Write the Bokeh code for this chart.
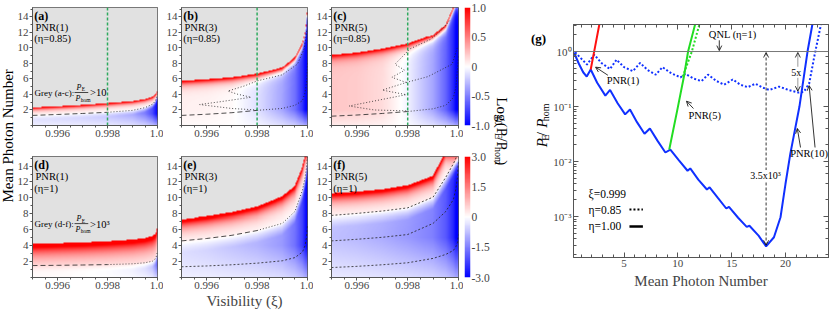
import numpy as np
from bokeh.plotting import figure
from bokeh.layouts import row, column
from bokeh.models import (Range1d, LinearColorMapper, Span, Label, Arrow, OpenHead,
                          FixedTicker, LinearAxis, LogAxis, CustomJSTickFormatter)
from bokeh.embed import file_html
from bokeh.resources import INLINE

SERIF = "Liberation Serif"
GREY = "#e1e1e1"
AXIS_C = "#555555"

# ---------------- panels (a)-(f): values ----------------
xi_knots = [0.995, 0.996, 0.997, 0.998, 0.999, 0.9995, 0.9998, 0.9999, 0.99996, 1.0]
# edge of the grey region
upper_a = [2.3, 2.45, 2.62, 2.85, 3.1, 3.35, 3.65, 3.95, 4.25, 4.6]
upper_b = [5.75, 5.95, 6.2, 6.65, 7.45, 8.8, 10.6, 12.0, 13.5, 15.5]
upper_c = [9.1, 9.4, 9.9, 10.55, 11.7, 13.0, 15.3, 16.0, 16.0, 16.0]
upper_d = [4.2, 4.3, 4.4, 4.55, 4.75, 4.95, 5.2, 5.45, 5.8, 6.6]
upper_e = [7.3, 7.7, 8.2, 8.9, 10.2, 11.5, 14.0, 15.5, 16.0, 16.0]
upper_f = [10.6, 10.8, 11.1, 11.6, 12.8, 16.0, 16.0, 16.0, 16.0, 16.0]
# contour lines
zero_a = [1.3, 1.42, 1.55, 1.7, 1.95, 2.3, 2.75, 3.1, 3.5, 4.0]
zero_d = [1.5, 1.53, 1.57, 1.62, 1.72, 1.85, 2.05, 2.3, 2.7, 3.3]
zero_e = [4.6, 4.9, 5.3, 5.9, 6.8, 8.3, 11.0, 12.5, 13.8, 15.5]
low_e = [1.35, 1.45, 1.6, 1.8, 2.1, 2.5, 3.2, 4.0, 5.0, 6.5]
zero_f = [7.8, 8.05, 8.35, 8.75, 10.1, 12.6, 14.3, 15.0, 15.5, 16.0]
mid_f = [4.6, 4.8, 5.05, 5.4, 6.8, 8.3, 9.8, 11.2, 12.6, 14.5]
low_f = [1.25, 1.4, 1.6, 1.85, 2.4, 2.9, 3.4, 3.9, 4.4, 5.4]
low_b = [1.3, 1.45, 1.65, 1.95, 2.2, 2.6, 3.2, 4.2, 5.5, 8.0]
low_c = [1.2, 1.35, 1.55, 1.8, 2.15, 2.6, 3.6, 5.0, 7.3, 9.0]
s_b_xi = [0.998, 0.997, 0.99572, 0.9966, 0.99776, 0.9972, 0.99684, 0.9975, 0.998, 0.999, 0.9996, 0.99987, 0.99997]
s_b_v = [2.0, 2.19, 2.7, 3.09, 3.64, 4.05, 4.44, 5.1, 5.74, 6.53, 7.9, 9.9, 12.2]
z_c_xi = [0.99965, 0.9993, 0.9989, 0.99809, 0.9975, 0.99788, 0.99738, 0.99794, 0.997, 0.99794, 0.99569, 0.99669, 0.998]
z_c_v = [13.5, 12.2, 11.1, 9.87, 7.9, 7.12, 6.21, 5.54, 4.56, 3.97, 2.51, 2.0, 1.88]
br_c_xi = [0.99794, 0.9988, 0.99975, 0.99995]
br_c_v = [5.54, 6.3, 7.9, 10.0]
# depth of the blue (fraction of colour-bar minimum) far below the red band
blue_a = [-0.18, -0.2, -0.22, -0.26, -0.35, -0.5, -0.7, -0.85, -0.95, -1.0]
blue_b = [0.06, 0.05, 0.02, -0.12, -0.35, -0.55, -0.8, -0.95, -1.0, -1.0]
blue_c = [0.22, 0.2, 0.14, -0.05, -0.35, -0.6, -0.85, -1.0, -1.0, -1.0]
blue_d = [-0.1, -0.1, -0.12, -0.14, -0.18, -0.25, -0.35, -0.5, -0.6, -0.7]
blue_e = [-0.17, -0.2, -0.25, -0.3, -0.4, -0.55, -0.75, -0.9, -1.0, -1.0]
blue_f = [-0.25, -0.28, -0.33, -0.4, -0.5, -0.65, -0.85, -1.0, -1.0, -1.0]

vis_ticks = [0.996, 0.998, 1.0]
vis_minor = [0.995, 0.9955, 0.996, 0.9965, 0.997, 0.9975, 0.998, 0.9985, 0.999, 0.9995, 1.0]
mpn_ticks = [2, 4, 6, 8, 10, 12, 14]
mpn_minor = list(range(0, 16))
cbar_top_ticks = [-1.0, -0.5, 0.0, 0.5, 1.0]
cbar_bot_ticks = [-3.0, -1.5, 0.0, 1.5, 3.0]

# ---------------- panel (g): values ----------------
solid_x = [0.35, 0.8, 1.2, 1.53, 1.9, 2.5, 3.26, 3.7, 4.4, 5.1, 5.55, 6.2, 6.9, 7.4, 8.1, 8.84, 9.3,
           10.1, 10.9, 11.15, 11.9, 12.7, 12.95, 13.7, 14.5, 14.75, 15.6, 16.4, 16.65, 17.5, 18.2,
           18.93, 19.54, 20.0, 20.45, 21.3, 22.05, 22.5]
solid_y = [0.95, 0.6, 0.42, 0.35, 0.47, 0.27, 0.158, 0.2, 0.115, 0.072, 0.088, 0.052, 0.032, 0.04,
           0.024, 0.0146, 0.0165, 0.0105, 0.0068, 0.0075, 0.0047, 0.0031, 0.0034, 0.0022, 0.0014,
           0.0015, 0.00095, 0.00065, 0.00068, 0.00045, 0.000286, 0.00042, 0.00097, 0.0039, 0.0138,
           0.1, 1.0, 3.1]
dotted_x = [0.45, 1.0, 1.56, 2.23, 2.9, 3.69, 4.3, 5.0, 5.82, 6.49, 7.2, 7.95, 8.57, 9.4, 10.24, 10.7,
            11.5, 12.2, 12.8, 13.6, 14.3, 15.1, 15.8, 16.5, 17.2, 17.9, 18.5, 19.4, 20.3, 21.2, 21.7,
            22.2, 22.7, 23.3]
dotted_y = [0.97, 0.75, 0.58, 0.88, 0.62, 0.48, 0.71, 0.52, 0.44, 0.62, 0.46, 0.38, 0.52, 0.4, 0.34,
            0.39, 0.32, 0.29, 0.38, 0.29, 0.25, 0.31, 0.25, 0.225, 0.26, 0.22, 0.2, 0.23, 0.2, 0.18,
            0.185, 0.26, 0.85, 3.1]
green_x = [9.2, 9.94, 10.55, 10.95, 11.6]
green_y = [0.0165, 0.085, 0.34, 1.0, 3.1]
green_dot_x = [10.45, 11.3, 12.0]
green_dot_y = [0.35, 1.0, 3.1]
red_x = [1.9, 2.3, 2.7]
red_y = [0.47, 1.2, 3.1]
g_xticks = [5, 10, 15, 20]
g_xminor = list(range(1, 25))
legend_sample_x = [5.5, 6.75]
legend_y = [0.0026, 0.00134, 0.00066]

# ---------------- colour maps ----------------
pal = []
for i in range(255):
    t = i / 254 * 2 - 1
    if t < 0:
        c = int(round(255 * (1 + t)))
        pal.append("#%02x%02xff" % (c, c))
    else:
        c = int(round(255 * (1 - t)))
        pal.append("#ff%02x%02x" % (c, c))
map_top = LinearColorMapper(palette=pal, low=-1, high=1, nan_color=GREY)
map_bot = LinearColorMapper(palette=pal, low=-3, high=3, nan_color=GREY)

V_TOP = 15.2
XI0, XI1 = 0.995, 1.0
NX, NY = 256, 240
xi_grid = np.linspace(XI0, XI1, NX)
v_grid = np.linspace(0, V_TOP, NY)


def build_field(upper, zero, blue, wr, sat, fade_h, wb, below_zero, scale):
    U = np.interp(xi_grid, xi_knots, upper)[None, :]
    Z = np.interp(xi_grid, xi_knots, zero)[None, :]
    B = np.interp(xi_grid, xi_knots, blue)[None, :]
    V = v_grid[:, None]
    red = np.clip(sat * np.exp(-(U - V) / wr), 0, 1)
    g = np.clip(0.35 + 0.65 * V / fade_h, 0, 1)
    h = np.clip((Z - V) / wb, 0, 1) ** 0.7 if below_zero else 1.0
    frac = red + (1 - red) * B * g * h
    frac = np.where(V > U, np.nan, frac)
    return (frac * scale).astype(np.float32)


def style_axes(p, size="11px"):
    for ax in p.axis:
        ax.axis_line_color = AXIS_C
        ax.major_tick_line_color = AXIS_C
        ax.minor_tick_line_color = AXIS_C
        ax.major_tick_out = 3
        ax.major_tick_in = 0
        ax.minor_tick_out = 2
        ax.minor_tick_in = 0
        ax.major_label_text_font = SERIF
        ax.major_label_text_font_size = size
        ax.major_label_standoff = 1
        ax.axis_label_text_font = SERIF
        ax.axis_label_text_font_style = "normal"
        ax.axis_label_text_font_size = "15px"
        ax.axis_label_standoff = 1


def lab(p, x, y, text, size, style="normal", align="left", baseline="middle", angle=0.0, bg=None):
    kw = dict(x=x, y=y, text=text, text_font=SERIF, text_font_size="%spx" % size,
              text_font_style=style, text_align=align, text_baseline=baseline, angle=angle,
              text_color="black")
    if bg:
        kw.update(background_fill_color=bg, background_fill_alpha=1.0)
    p.add_layout(Label(**kw))


TOP_H, BOT_H = 150, 164


def panel(arr, mapper, top_row, letter, pnr, eta, contours, xlabel, green, fw, rb):
    h = TOP_H if top_row else BOT_H
    p = figure(width=14 + fw + rb, height=h, x_range=Range1d(XI0, XI1), y_range=Range1d(0, V_TOP),
               output_backend="svg", toolbar_location=None,
               min_border_left=14, min_border_right=rb,
               min_border_top=5 if top_row else 3, min_border_bottom=17 if top_row else 36)
    p.background_fill_color = GREY
    p.border_fill_color = "white"
    p.grid.visible = False
    p.outline_line_color = AXIS_C
    p.image(image=[arr], x=XI0, y=0, dw=XI1 - XI0, dh=V_TOP, color_mapper=mapper)
    for xs, vs, dash in contours:
        p.line(xs, vs, line_color="#222222", line_width=0.8, line_dash=dash)
    if green:
        p.add_layout(Span(location=0.998, dimension="height", line_color="#2eaa5e",
                          line_dash="3 2", line_width=1.5))
    p.xaxis.ticker = FixedTicker(ticks=vis_ticks, minor_ticks=vis_minor)
    p.xaxis.formatter = CustomJSTickFormatter(code="return tick > 0.9999 ? '1.0' : tick.toFixed(3);")
    p.yaxis.ticker = FixedTicker(ticks=mpn_ticks, minor_ticks=mpn_minor)
    if not top_row:
        p.xaxis.axis_label = xlabel
    style_axes(p)
    lab(p, 0.99507, 14.1, letter, 12, "bold")
    lab(p, 0.99512, 12.65, pnr, 10.5)
    lab(p, 0.99507, 11.2, eta, 10.5)
    return p


def split(xs, vs, k=4):
    return [(xs[:k], vs[:k], "5 3"), (xs[k - 1:], vs[k - 1:], "1 2")]


arr_a = build_field(upper_a, zero_a, blue_a, 0.3, 1.3, 1.5, 0.6, True, 1.0)
arr_b = build_field(upper_b, low_b, blue_b, 0.45, 1.3, 2.0, 1.0, False, 1.0)
arr_c = build_field(upper_c, low_c, blue_c, 0.5, 1.3, 2.0, 1.0, False, 1.0)
arr_d = build_field(upper_d, zero_d, blue_d, 1.3, 1.4, 1.5, 0.8, True, 3.0)
arr_e = build_field(upper_e, zero_e, blue_e, 0.9, 1.4, 4.0, 1.5, True, 3.0)
arr_f = build_field(upper_f, zero_f, blue_f, 0.9, 1.4, 5.0, 1.5, True, 3.0)

pa = panel(arr_a, map_top, True, "(a)", "PNR(1)", "(η=0.85)", split(xi_knots, zero_a), None, True, 129, 6)
pb = panel(arr_b, map_top, True, "(b)", "PNR(3)", "(η=0.85)",
           split(xi_knots, low_b) + [(s_b_xi, s_b_v, "1 2")], None, True, 130, 6)
pc = panel(arr_c, map_top, True, "(c)", "PNR(5)", "(η=0.85)",
           split(xi_knots, low_c) + [(z_c_xi, z_c_v, "1 2"), (br_c_xi, br_c_v, "1 2")], None, True, 131, 5)
pd = panel(arr_d, map_bot, False, "(d)", "PNR(1)", "(η=1)", split(xi_knots, zero_d), " ", False, 129, 6)
pe = panel(arr_e, map_bot, False, "(e)", "PNR(3)", "(η=1)",
           split(xi_knots, zero_e) + [(xi_knots, low_e, "2 2")], "Visibility (ξ)", False, 130, 6)
pf = panel(arr_f, map_bot, False, "(f)", "PNR(5)", "(η=1)",
           [(xi_knots, zero_f, "2 2"), (xi_knots, mid_f, "2 2"), (xi_knots, low_f, "2 2")], " ", False, 131, 5)


def grey_note(p, v_mid, dv, text, rhs):
    lab(p, 0.99508, v_mid, text, 9)
    lab(p, 0.99676, v_mid + dv, "P", 8, "italic")
    lab(p, 0.99697, v_mid + dv - 0.25, "E", 5.5)
    lab(p, 0.99672, v_mid - dv, "P", 8, "italic")
    lab(p, 0.99693, v_mid - dv - 0.25, "hom", 5.5)
    p.segment(x0=[0.99668], y0=[v_mid + 0.05], x1=[0.99723], y1=[v_mid + 0.05],
              line_color="black", line_width=0.7)
    lab(p, 0.9973, v_mid, rhs, 10.5)


grey_note(pa, 4.2, 0.7, "Grey (a-c):", ">10")
grey_note(pd, 6.72, 0.65, "Grey (d-f):", ">10³")


def cbar(mapper, lo, hi, ticks, h, top, fh):
    f = figure(width=29, height=h, x_range=Range1d(0, 1), y_range=Range1d(lo, hi),
               x_axis_location=None, y_axis_location="right", output_backend="svg",
               toolbar_location=None, min_border_left=1, min_border_right=20,
               min_border_top=top, min_border_bottom=h - top - fh)
    grad = np.linspace(lo, hi, 256).reshape(256, 1)
    f.image(image=[grad], x=0, y=lo, dw=1, dh=hi - lo, color_mapper=mapper)
    f.grid.visible = False
    f.outline_line_color = None
    ax = f.yaxis[0]
    ax.ticker = FixedTicker(ticks=ticks)
    ax.formatter = CustomJSTickFormatter(code="return tick == 0 ? '0' : tick.toFixed(1);")
    ax.major_tick_out = 0
    ax.major_tick_in = 0
    ax.minor_tick_out = 0
    ax.minor_tick_in = 0
    ax.axis_line_color = None
    ax.major_label_text_font = SERIF
    ax.major_label_text_font_size = "11.5px"
    ax.major_label_standoff = 1
    return f


cb1 = cbar(map_top, -1, 1, cbar_top_ticks, TOP_H, 7, 118)
cb2 = cbar(map_bot, -3, 3, cbar_bot_ticks, BOT_H, 6, 121)

# ---------------- text strips ----------------
FONT_W = {'L': .611, 'o': .5, 'g': .5, '(': .333, ')': .333, 'P': .58, 'E': .611, '/': .278,
          'h': .5, 'm': .778, '1': .5, '0': .5, ' ': .25}


def tw(s, size):
    return sum(FONT_W.get(c, 0.5) for c in s) * size


def vertical_chunks(p, chunks, x_c, y_mid, down):
    total = sum(tw(t, sz) for t, sz, st, sh in chunks)
    if down:
        y = y_mid + total / 2
        ang = -np.pi / 2
        xb = x_c - 0.24 * 15
    else:
        y = y_mid - total / 2
        ang = np.pi / 2
        xb = x_c + 0.24 * 15
    for t, sz, st, sh in chunks:
        x = xb + sh if down else xb - sh
        lab(p, x, y, t, sz, st, "left", "alphabetic", ang)
        y = y - tw(t, sz) if down else y + tw(t, sz)


H_ALL = TOP_H + BOT_H


def strip(w):
    s = figure(width=w, height=H_ALL, x_range=Range1d(0, w), y_range=Range1d(0, H_ALL),
               x_axis_location=None, y_axis_location=None, output_backend="svg",
               toolbar_location=None, min_border=0)
    s.grid.visible = False
    s.outline_line_color = None
    return s


ls = strip(14)
lab(ls, 7, H_ALL - 150, "Mean Photon Number", 15, "normal", "center", "middle", np.pi / 2)

ct = strip(58)
vertical_chunks(ct, [("Log", 15, "normal", 0), ("10", 10, "normal", -3.5), ("(P", 15, "normal", 0),
                     ("E", 10, "normal", -3.5), ("/P", 15, "normal", 0), ("hom", 10, "normal", -3.5),
                     (")", 15, "normal", 0)], 13, H_ALL - 143, True)
vertical_chunks(ct, [("P", 15, "italic", 0), ("E", 10, "normal", -3.5), (" / ", 15, "normal", 0),
                     ("P", 15, "italic", 0), ("hom", 10, "normal", -3.5)], 45.5, H_ALL - 139, False)
lab(ct, 46, H_ALL - 19, "(g)", 13, "bold", "center", "middle")

# ---------------- panel (g) ----------------
pg = figure(width=280, height=H_ALL, x_range=Range1d(0.3, 24), y_range=Range1d(1.8e-4, 3.1),
            y_axis_type="log", output_backend="svg", toolbar_location=None,
            min_border_left=20, min_border_right=2, min_border_top=24, min_border_bottom=57)
pg.grid.visible = False
pg.outline_line_color = AXIS_C
pg.add_layout(LogAxis(), "right")
pg.add_layout(LinearAxis(), "above")
for ax in pg.below + pg.above:
    ax.ticker = FixedTicker(ticks=g_xticks, minor_ticks=g_xminor)
pg.left[0].formatter = CustomJSTickFormatter(code="""
const e = Math.round(Math.log10(tick));
const m = {'0':'\u2070','1':'\u00b9','2':'\u00b2','3':'\u00b3','4':'\u2074','-':'\u207b'};
return '10' + String(e).split('').map(c => m[c]).join('');
""")
pg.below[0].axis_label = "Mean Photon Number"
for ax in pg.axis:
    ax.axis_line_color = AXIS_C
    ax.major_tick_line_color = AXIS_C
    ax.minor_tick_line_color = AXIS_C
    ax.major_tick_out = 0
    ax.major_tick_in = 5
    ax.minor_tick_out = 0
    ax.minor_tick_in = 3
    ax.major_label_text_font = SERIF
    ax.major_label_text_font_size = "11px"
    ax.major_label_standoff = 2
    ax.axis_label_text_font = SERIF
    ax.axis_label_text_font_style = "normal"
    ax.axis_label_text_font_size = "15px"
    ax.axis_label_standoff = 3
for ax in pg.right + pg.above:
    ax.formatter = CustomJSTickFormatter(code="return '';")
    ax.major_label_standoff = 0

pg.add_layout(Span(location=1.0, dimension="width", line_color="#777777", line_width=1))
pg.line(solid_x, solid_y, line_color="#1030ff", line_width=2)
pg.line(dotted_x, dotted_y, line_color="#1030ff", line_width=2, line_dash="2 2")
pg.line(green_x, green_y, line_color="#22dd22", line_width=2)
pg.line(green_dot_x, green_dot_y, line_color="#22dd22", line_width=2, line_dash="2 2")
pg.line(red_x, red_y, line_color="#ff1010", line_width=2)


def arrow(x0, y0, x1, y1, dash="solid", both=False):
    kw = dict(end=OpenHead(size=5, line_width=0.8), x_start=x0, y_start=y0, x_end=x1, y_end=y1,
              line_width=0.8, line_color="black", line_dash=dash)
    if both:
        kw["start"] = OpenHead(size=5, line_width=0.8)
    pg.add_layout(Arrow(**kw))


arrow(13.85, 1.6, 13.85, 1.04)
arrow(3.5, 0.37, 2.35, 0.52)
arrow(11.45, 0.092, 10.8, 0.125)
arrow(21.4, 0.018, 21.1, 0.04)
arrow(22.75, 0.018, 22.2, 0.24)
arrow(18.2, 0.96, 18.2, 0.0003, dash="3 2", both=True)
arrow(21.15, 0.96, 21.15, 0.19, dash="1 1", both=True)

lab(pg, 15.1, 2.05, "QNL (η=1)", 10.5, align="center")
lab(pg, 4.9, 0.30, "PNR(1)", 10.5, align="center")
lab(pg, 12.5, 0.068, "PNR(5)", 10.5, align="center")
lab(pg, 22.2, 0.0142, "PNR(10)", 10.5, align="center")
lab(pg, 21.0, 0.42, "5x", 10, align="center", bg="white")
lab(pg, 18.15, 0.0056, "3.5x10³", 10, align="center", bg="white")
lab(pg, 1.7, legend_y[0], "ξ=0.999", 11.5)
lab(pg, 1.7, legend_y[1], "η=0.85", 11.5)
lab(pg, 1.7, legend_y[2], "η=1.00", 11.5)
pg.line(legend_sample_x, [legend_y[1]] * 2, line_color="black", line_width=2, line_dash="2 2")
pg.line(legend_sample_x, [legend_y[2]] * 2, line_color="black", line_width=2.5)

layout = row(ls, column(row(pa, pb, pc, cb1), row(pd, pe, pf, cb2)), ct, pg)
open("out.html", "w").write(file_html(layout, INLINE))
